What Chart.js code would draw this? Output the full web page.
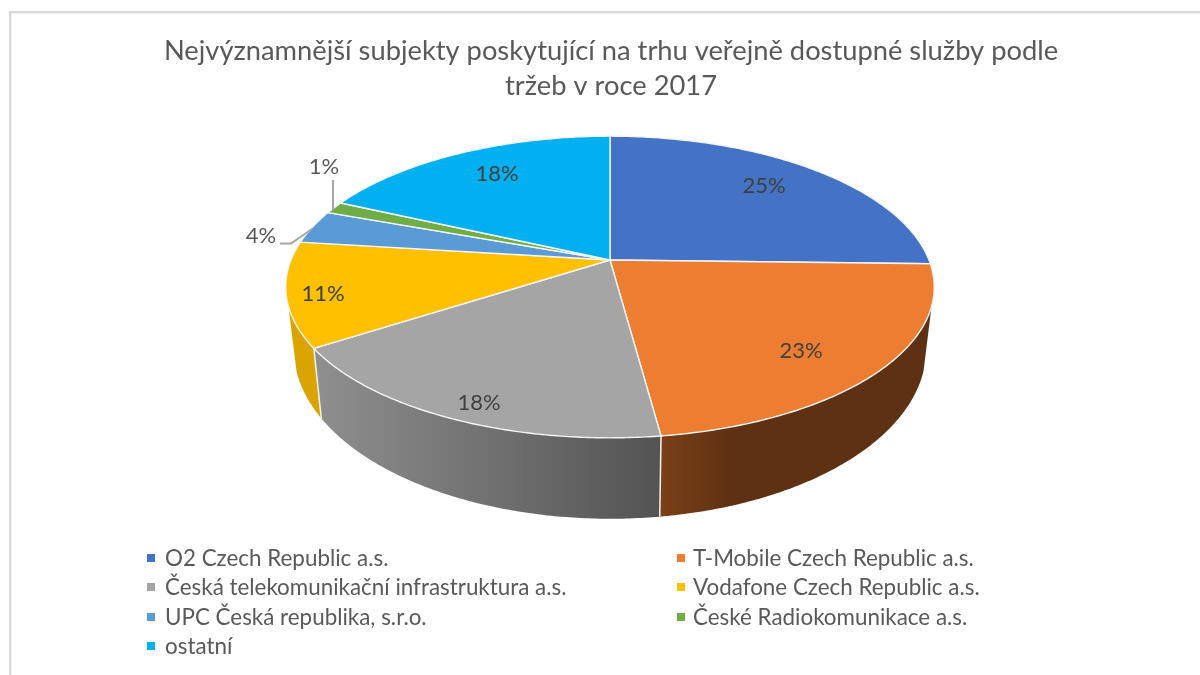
<!DOCTYPE html>
<html><head><meta charset="utf-8">
<style>html,body{margin:0;padding:0;background:#fff}canvas{display:block;filter:blur(0.45px)}</style>
<script src="https://cdn.jsdelivr.net/npm/chart.js@4"></script>
</head><body>
<div style="width:1200px;height:675px"><canvas id="c" width="1200" height="675"></canvas></div>
<script>
const titleLines = ['Nejvýznamnější subjekty poskytující na trhu veřejně dostupné služby podle','tržeb v roce 2017'];
const categories = ['O2 Czech Republic a.s.','T-Mobile Czech Republic a.s.','Česká telekomunikační infrastruktura a.s.','Vodafone Czech Republic a.s.','UPC Česká republika, s.r.o.','České Radiokomunikace a.s.','ostatní'];
const shares = [25.4,22.5,17.9,11.2,3.6,1.3,18.1];
const topColors = ['#4472C4','#ED7D31','#A5A5A5','#FFC000','#5B9BD5','#70AD47','#00B0F0'];
const FONT = 'Lato, Carlito, sans-serif';

// perspective projection of the pie disc
const TOP={a:319,y0:260,b:146,xs:1,cx:610}, LOW={y0:319,b:164,xs:0.975,cx:610}, K=0.179, TANGENT=Math.asin(0.3);
function proj(ang,r,ring){
  const u=Math.cos(ang)*r, v=Math.sin(ang)*r, w=1-K*v;
  return {x:ring.cx+ring.xs*TOP.a*u/w, y:ring.y0+ring.b*v/w};
}
function rimFill(ctx,i){
  if(i===1){const g=ctx.createLinearGradient(662,0,730,0);g.addColorStop(0,'#7A4018');g.addColorStop(1,'#5E3113');return g;}
  if(i===2){const g=ctx.createLinearGradient(320,0,662,0);g.addColorStop(0,'#8E8E8E');g.addColorStop(1,'#535353');return g;}
  if(i===3) return '#D9A300';
  return '#888888';
}
const labelAnchors=[[764,186],[801,351],[479,403],[323,294],[261,236],[324,167],[497,174]];
const legendRows=[558,587,617,646], legendCols=[[147,165],[677,693]];

const pie3d={
  id:'pie3d',
  beforeDatasetsDraw(chart){
    const ctx=chart.ctx, arcs=chart.getDatasetMeta(0).data;
    ctx.save();
    // frame
    ctx.fillStyle='#D9D9D9';
    ctx.fillRect(9,11,1191,2.4);
    ctx.fillRect(9,11,2.4,664);
    // rim: only the part between the two silhouette tangents can be seen
    arcs.forEach((el,i)=>{
      const s=Math.max(el.startAngle,TANGENT), e=Math.min(el.endAngle,Math.PI-TANGENT);
      if(e<=s) return;
      const n=Math.ceil((e-s)/0.01);
      ctx.beginPath();
      for(let k=0;k<=n;k++){const p=proj(s+(e-s)*k/n,1,TOP);k?ctx.lineTo(p.x,p.y):ctx.moveTo(p.x,p.y);}
      for(let k=n;k>=0;k--){const p=proj(s+(e-s)*k/n,1,LOW);ctx.lineTo(p.x,p.y);}
      ctx.closePath();
      ctx.fillStyle=rimFill(ctx,i);ctx.fill();
    });
    ctx.strokeStyle='#F2F2F2';ctx.lineWidth=1.5;
    arcs.forEach(el=>{
      if(el.endAngle>TANGENT && el.endAngle<Math.PI-TANGENT){
        const a=proj(el.endAngle,1,TOP),b=proj(el.endAngle,1,LOW);
        ctx.beginPath();ctx.moveTo(a.x,a.y);ctx.lineTo(b.x,b.y);ctx.stroke();
      }
    });
    // top faces
    arcs.forEach((el,i)=>{
      const s=el.startAngle,e=el.endAngle,n=Math.max(4,Math.ceil((e-s)/0.01));
      ctx.beginPath();
      const c=proj(0,0,TOP);ctx.moveTo(c.x,c.y);
      for(let k=0;k<=n;k++){const p=proj(s+(e-s)*k/n,1,TOP);ctx.lineTo(p.x,p.y);}
      ctx.closePath();
      ctx.fillStyle=el.options.backgroundColor;ctx.fill();
      ctx.strokeStyle='#F4F4F4';ctx.lineWidth=1.4;ctx.lineJoin='round';ctx.stroke();
    });
    // leader lines
    ctx.strokeStyle='#A6A6A6';ctx.lineWidth=2;ctx.lineJoin='miter';
    ctx.beginPath();ctx.moveTo(333,180);ctx.lineTo(333,210);ctx.stroke();
    ctx.beginPath();ctx.moveTo(280,243.5);ctx.lineTo(291,243.5);ctx.lineTo(312,229);ctx.stroke();
    // value labels
    ctx.font='22px '+FONT;ctx.textAlign='center';ctx.textBaseline='middle';
    shares.forEach((v,i)=>{
      ctx.fillStyle=(i===4||i===5)?'#595959':'#404040';
      ctx.fillText(Math.round(v)+'%',labelAnchors[i][0],labelAnchors[i][1]);
    });
    // legend
    ctx.textAlign='left';ctx.font='22.4px '+FONT;
    categories.forEach((t,i)=>{
      const col=legendCols[i%2], y=legendRows[Math.floor(i/2)];
      ctx.fillStyle=topColors[i];ctx.fillRect(col[0],y-4,8,8);
      ctx.fillStyle='#595959';ctx.fillText(t,col[1],y+1);
    });
    ctx.restore();
    return false;
  }
};
new Chart(document.getElementById('c'),{
  type:'pie',
  data:{labels:categories,datasets:[{data:shares,backgroundColor:topColors,borderColor:'#fff',borderWidth:1}]},
  options:{
    responsive:false,animation:false,
    layout:{padding:{left:22,right:0,top:34,bottom:130}},
    plugins:{
      legend:{display:false},tooltip:{enabled:false},
      title:{display:true,text:titleLines,color:'#595959',font:{family:FONT,size:27.3,weight:'normal',lineHeight:1.28},padding:0}
    }
  },
  plugins:[pie3d]
});
</script>
</body></html>
